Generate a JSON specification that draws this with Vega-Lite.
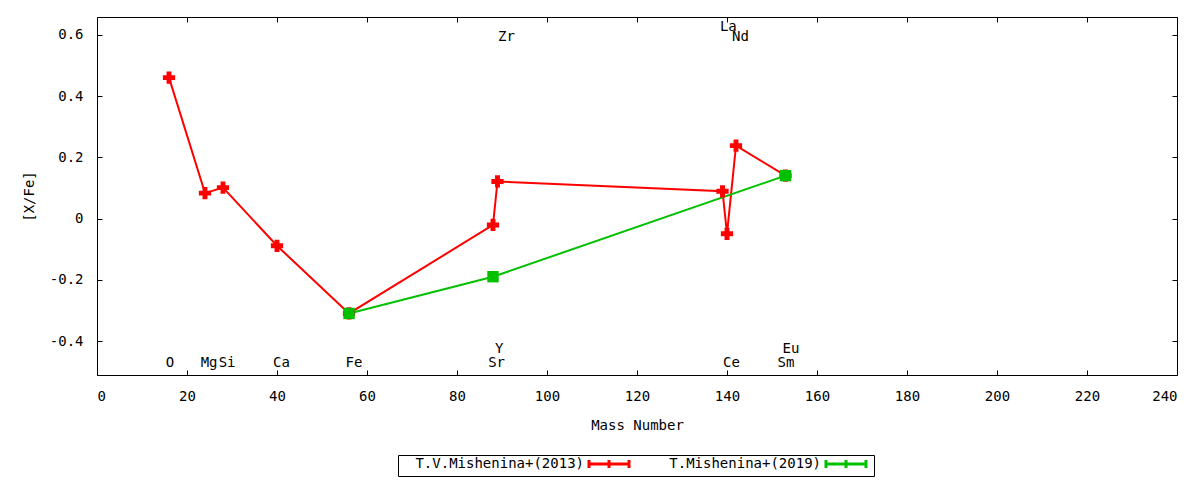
{
  "$schema": "https://vega.github.io/schema/vega-lite/v6.json",
  "width": 1080,
  "height": 358,
  "autosize": "none",
  "padding": {"left": 97, "top": 17, "right": 23, "bottom": 105},
  "background": "white",
  "datasets": {
    "pts": [
      {"series": "T.V.Mishenina+(2013)", "el": "O", "mass": 16, "val": 0.46, "ord": 1},
      {"series": "T.V.Mishenina+(2013)", "el": "Mg", "mass": 24, "val": 0.083, "ord": 2},
      {"series": "T.V.Mishenina+(2013)", "el": "Si", "mass": 28, "val": 0.101, "ord": 3},
      {"series": "T.V.Mishenina+(2013)", "el": "Ca", "mass": 40, "val": -0.089, "ord": 4},
      {"series": "T.V.Mishenina+(2013)", "el": "Fe", "mass": 56, "val": -0.31, "ord": 5},
      {"series": "T.V.Mishenina+(2013)", "el": "Sr", "mass": 88, "val": -0.021, "ord": 6},
      {"series": "T.V.Mishenina+(2013)", "el": "Y", "mass": 89, "val": 0.121, "ord": 7},
      {"series": "T.V.Mishenina+(2013)", "el": "La", "mass": 139, "val": 0.089, "ord": 8},
      {"series": "T.V.Mishenina+(2013)", "el": "Ce", "mass": 140, "val": -0.05, "ord": 9},
      {"series": "T.V.Mishenina+(2013)", "el": "Nd", "mass": 142, "val": 0.238, "ord": 10},
      {"series": "T.V.Mishenina+(2013)", "el": "Sm", "mass": 153, "val": 0.14, "ord": 11},
      {"series": "T.Mishenina+(2019)", "el": "Fe", "mass": 56, "val": -0.31, "ord": 1},
      {"series": "T.Mishenina+(2019)", "el": "Sr", "mass": 88, "val": -0.19, "ord": 2},
      {"series": "T.Mishenina+(2019)", "el": "Eu", "mass": 153, "val": 0.14, "ord": 3}
    ],
    "labels": [
      {"el": "O", "mass": 16.2, "val": -0.473},
      {"el": "Mg", "mass": 24.9, "val": -0.473},
      {"el": "Si", "mass": 28.9, "val": -0.473},
      {"el": "Ca", "mass": 41.0, "val": -0.473},
      {"el": "Fe", "mass": 57.1, "val": -0.473},
      {"el": "Sr", "mass": 88.8, "val": -0.473},
      {"el": "Y", "mass": 89.4, "val": -0.427},
      {"el": "Zr", "mass": 91.0, "val": 0.592},
      {"el": "La", "mass": 140.3, "val": 0.625},
      {"el": "Ce", "mass": 141.0, "val": -0.473},
      {"el": "Nd", "mass": 143.0, "val": 0.592},
      {"el": "Sm", "mass": 153.1, "val": -0.473},
      {"el": "Eu", "mass": 154.2, "val": -0.427}
    ]
  },
  "encoding": {
    "x": {"field": "mass", "type": "quantitative", "scale": {"domain": [0, 240], "nice": false, "zero": false}},
    "y": {"field": "val", "type": "quantitative", "scale": {"domain": [-0.511, 0.658], "nice": false, "zero": false}}
  },
  "layer": [
    {
      "data": {"name": "pts"},
      "mark": {"type": "line", "strokeWidth": 2},
      "encoding": {
        "x": {"field": "mass", "type": "quantitative", "title": "Mass Number",
          "axis": {"orient": "bottom", "values": [0, 20, 40, 60, 80, 100, 120, 140, 160, 180, 200, 220, 240], "tickSize": -5, "labelPadding": 19, "titlePadding": 15}},
        "y": {"field": "val", "type": "quantitative", "title": "[X/Fe]",
          "axis": {"orient": "left", "values": [-0.4, -0.2, 0, 0.2, 0.4, 0.6], "labelExpr": "'' + datum.value", "tickSize": -5, "labelPadding": 19, "titlePadding": 13}},
        "color": {"field": "series", "type": "nominal", "title": null,
          "scale": {"domain": ["T.V.Mishenina+(2013)", "T.Mishenina+(2019)"], "range": ["#ff0000", "#00c000"]},
          "legend": {"orient": "none", "legendX": 301, "legendY": 438, "direction": "horizontal", "strokeColor": "black", "padding": 2,
            "symbolType": "M-4,0H4M-4,-0.8V0.8M4,-0.8V0.8M0,-0.8V0.8", "symbolSize": 100, "symbolStrokeWidth": 3, "symbolOffset": 202,
            "labelAlign": "right", "labelOffset": -32,
            "labelFont": "DejaVu Sans Mono", "labelFontSize": 14, "labelColor": "black", "labelLimit": 300, "columnPadding": 2}},
        "order": {"field": "ord", "type": "quantitative"}
      }
    },
    {
      "data": {"name": "pts"},
      "transform": [{"filter": "datum.series == 'T.V.Mishenina+(2013)'"}],
      "mark": {"type": "point", "shape": "cross", "filled": true, "color": "#ff0000", "size": 150, "opacity": 1},
      "encoding": {
        "x": {"field": "mass", "type": "quantitative", "axis": null},
        "y": {"field": "val", "type": "quantitative", "axis": null}
      }
    },
    {
      "data": {"name": "pts"},
      "transform": [{"filter": "datum.series == 'T.Mishenina+(2019)'"}],
      "mark": {"type": "point", "shape": "square", "filled": true, "color": "#00c000", "size": 130, "opacity": 1},
      "encoding": {
        "x": {"field": "mass", "type": "quantitative", "axis": null},
        "y": {"field": "val", "type": "quantitative", "axis": null}
      }
    },
    {
      "data": {"name": "labels"},
      "mark": {"type": "text", "font": "DejaVu Sans Mono", "fontSize": 14, "color": "black", "align": "center", "baseline": "middle"},
      "encoding": {
        "x": {"field": "mass", "type": "quantitative", "axis": null},
        "y": {"field": "val", "type": "quantitative", "axis": null},
        "text": {"field": "el"}
      }
    },
    {
      "data": {"name": "labels"},
      "mark": {"type": "point", "opacity": 0},
      "encoding": {
        "x": {"field": "mass", "type": "quantitative", "title": null,
          "axis": {"orient": "top", "values": [0, 20, 40, 60, 80, 100, 120, 140, 160, 180, 200, 220, 240], "labels": false, "tickSize": -5}},
        "y": {"field": "val", "type": "quantitative", "title": null,
          "axis": {"orient": "right", "values": [-0.4, -0.2, 0, 0.2, 0.4, 0.6], "labels": false, "tickSize": -5}}
      }
    }
  ],
  "resolve": {"axis": {"x": "independent", "y": "independent"}},
  "config": {
    "font": "DejaVu Sans Mono",
    "view": {"stroke": "black", "strokeWidth": 1},
    "axis": {
      "domain": false, "grid": false, "tickColor": "black", "tickWidth": 1,
      "labelFont": "DejaVu Sans Mono", "labelFontSize": 14, "labelColor": "black",
      "titleFont": "DejaVu Sans Mono", "titleFontSize": 14, "titleFontWeight": "normal", "titleColor": "black"
    }
  }
}
